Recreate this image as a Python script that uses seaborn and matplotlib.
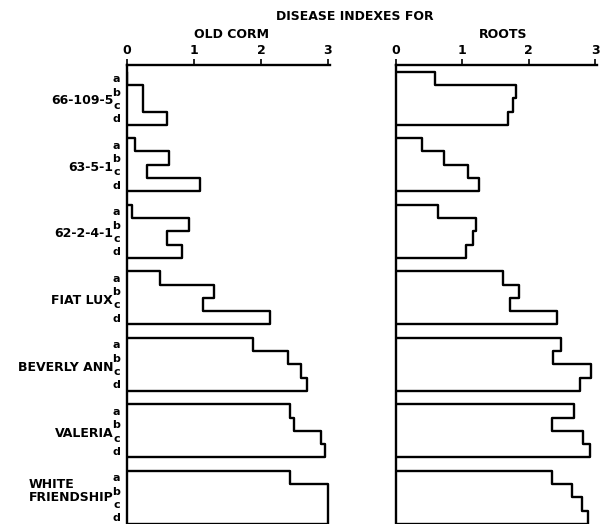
import pandas as pd
import matplotlib
matplotlib.use("Agg")
import matplotlib.pyplot as plt
import seaborn as sns

# cultivars and the four sub-rows of each one
cultivars = ["66-109-5", "63-5-1", "62-2-4-1", "FIAT LUX",
             "BEVERLY ANN", "VALERIA", "WHITE\nFRIENDSHIP"]
levels = ["a", "b", "c", "d"]

# disease index values (0-3 scale)
old_corm = [
    [0.00, 0.24, 0.24, 0.59],
    [0.12, 0.63, 0.30, 1.09],
    [0.08, 0.93, 0.59, 0.82],
    [0.50, 1.30, 1.13, 2.14],
    [1.88, 2.40, 2.59, 2.68],
    [2.43, 2.49, 2.89, 2.96],
    [2.44, 3.00, 3.00, 3.00],
]
roots = [
    [0.59, 1.81, 1.77, 1.69],
    [0.39, 0.72, 1.08, 1.25],
    [0.63, 1.21, 1.16, 1.06],
    [1.61, 1.86, 1.72, 2.42],
    [2.49, 2.37, 2.94, 2.78],
    [2.68, 2.35, 2.82, 2.93],
    [2.35, 2.65, 2.80, 2.90],
]
x_ticks = [0, 1, 2, 3]

sns.set_style("white")
plt.rcParams["font.family"] = ["DejaVu Sans"]
plt.rcParams["text.color"] = "black"
plt.rcParams["xtick.color"] = "black"
plt.rcParams["ytick.color"] = "black"

gap = 1  # empty slot between cultivar groups
step = len(levels) + gap


def outline(values):
    # stepped outline of one panel, built from the bar values
    rows = []
    for g, vals in enumerate(values):
        top = g * step
        pts = [(0, top)]
        for j, v in enumerate(vals):
            pts += [(v, top + j), (v, top + j + 1)]
        pts.append((0, top + len(vals)))
        for k, (x, y) in enumerate(pts):
            rows.append({"group": g, "order": k, "x": x, "y": y})
    return pd.DataFrame(rows)


fig = plt.figure(figsize=(6.0, 5.24), dpi=100)
W, H = 600, 524
ax1 = fig.add_axes([127 / W, 0, 203 / W, 459 / H])
ax2 = fig.add_axes([396 / W, 0, 201 / W, 459 / H])

centers = [g * step + j + 0.5 for g in range(len(cultivars)) for j in range(len(levels))]

for ax, vals in [(ax1, old_corm), (ax2, roots)]:
    df = outline(vals)
    sns.lineplot(data=df, x="x", y="y", units="group", estimator=None,
                 sort=False, color="black", lw=1.7, ax=ax, legend=False)
    ax.set_xlim(0, 3.03)
    ax.set_ylim(len(cultivars) * step - 1, -0.5)
    ax.xaxis.tick_top()
    ax.set_xticks(x_ticks)
    ax.set_xticklabels([str(t) for t in x_ticks], fontsize=9, fontweight="bold")
    ax.tick_params(axis="x", direction="out", length=4, width=1.2, pad=2)
    ax.set_xlabel("")
    ax.set_ylabel("")
    for s in ["right", "bottom"]:
        ax.spines[s].set_visible(False)
    for s in ["left", "top"]:
        ax.spines[s].set_linewidth(1.7)
        ax.spines[s].set_color("black")

ax1.set_yticks(centers)
ax1.set_yticklabels(levels * len(cultivars), fontsize=8, fontweight="bold")
ax1.tick_params(axis="y", length=0, pad=5)
ax2.set_yticks([])

for g, name in enumerate(cultivars):
    yoff = 1.5 if "\n" in name else 2.2
    ax1.text(-0.068, g * step + yoff, name, transform=ax1.get_yaxis_transform(),
             ha="right", va="center", fontsize=9, fontweight="bold",
             linespacing=1.0, multialignment="left")

fig.text(355 / W, 1 - 16 / H, "DISEASE INDEXES FOR", ha="center", va="center",
         fontsize=9, fontweight="bold")
fig.text(231 / W, 1 - 34 / H, "OLD CORM", ha="center", va="center",
         fontsize=9, fontweight="bold")
fig.text(503 / W, 1 - 34 / H, "ROOTS", ha="center", va="center",
         fontsize=9, fontweight="bold")

fig.savefig("out.png", dpi=100)
